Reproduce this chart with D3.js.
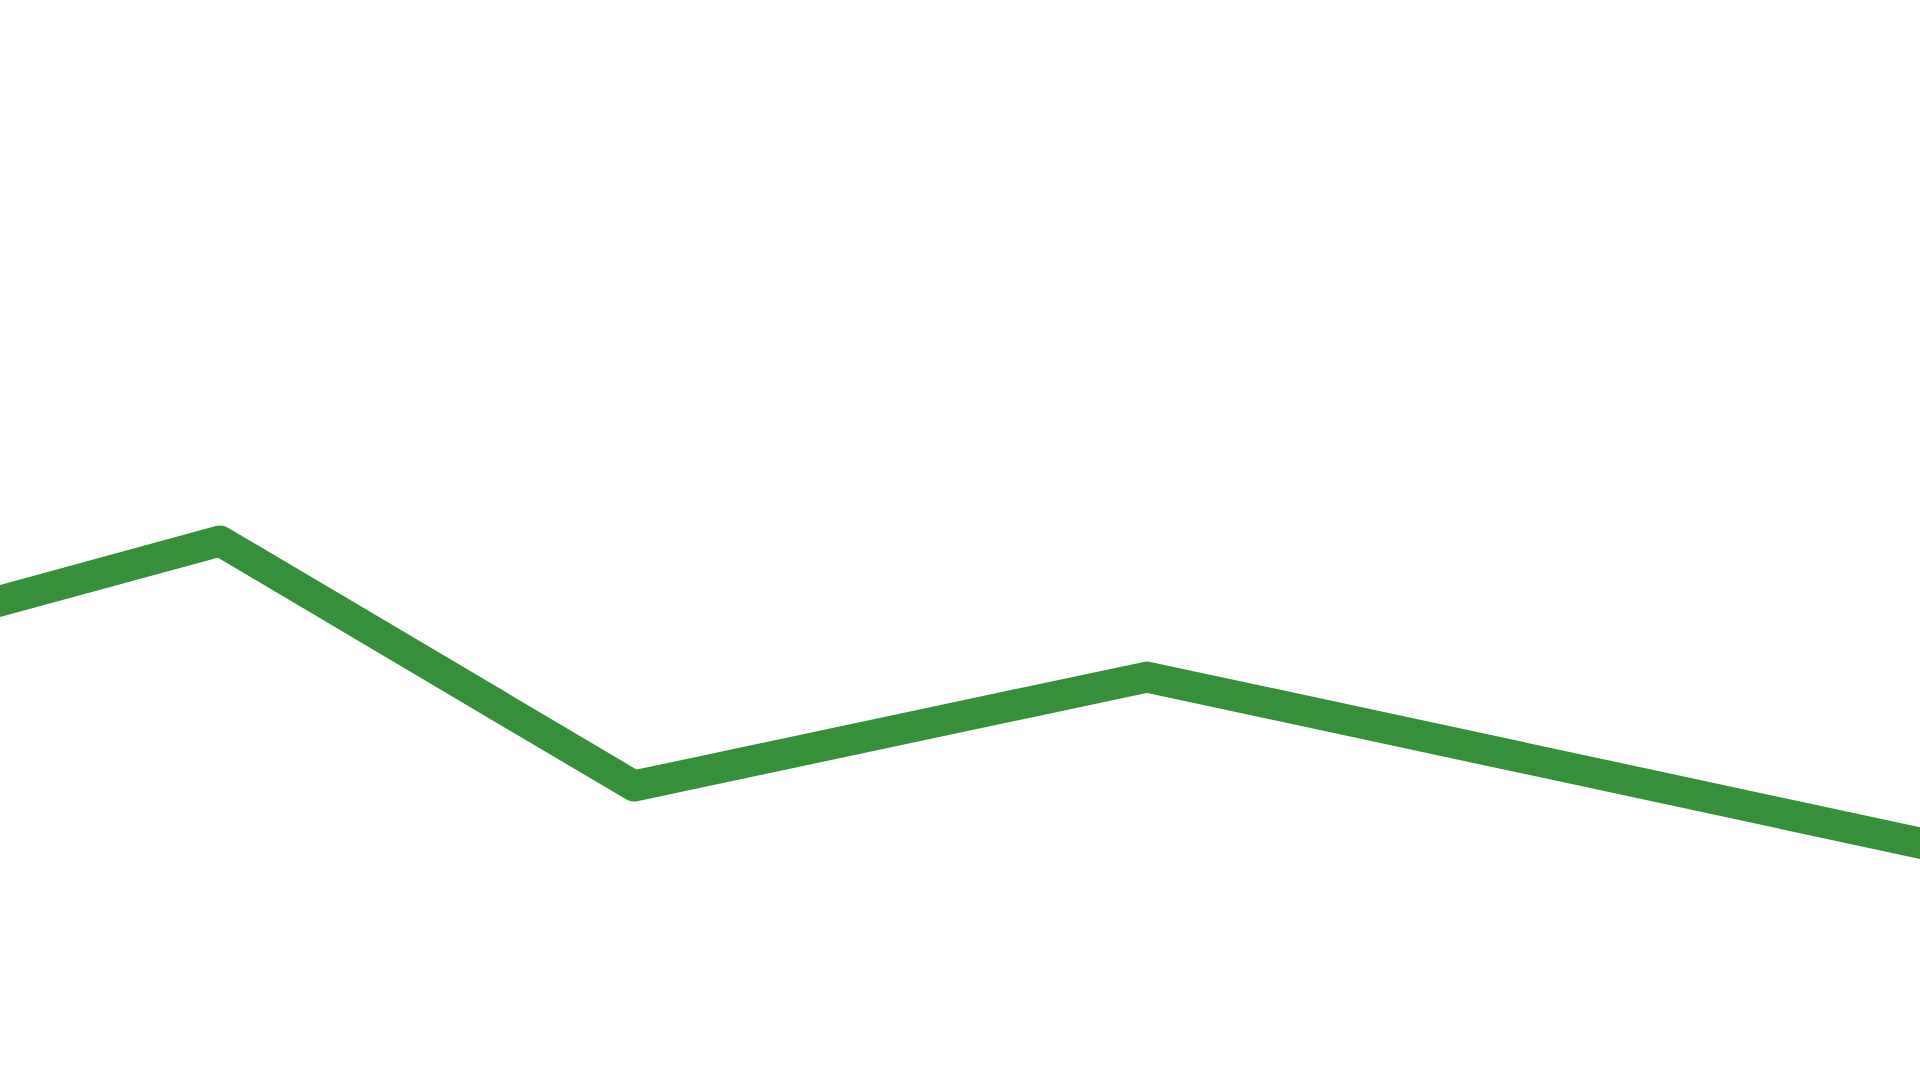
<!DOCTYPE html>
<html>
<head>
<meta charset="utf-8">
<script src="https://cdn.jsdelivr.net/npm/d3@7"></script>
<style>
  html, body { margin: 0; padding: 0; background: #ffffff; overflow: hidden; }
  svg { display: block; }
</style>
</head>
<body>
<svg id="chart" width="1920" height="1080"></svg>
<script>
// Data (no axes shown; units are relative 0–100)
const xValues = [0, 11.46, 33.02, 59.74, 100];
const yValues = [44.35, 49.91, 27.22, 37.31, 21.94];
const lineColor = "#368f39";

const width = 1920, height = 1080;
const svg = d3.select("#chart");

const x = d3.scaleLinear().domain([0, 100]).range([0, width]);
const y = d3.scaleLinear().domain([0, 100]).range([height, 0]);

const data = xValues.map((v, i) => ({ x: v, y: yValues[i] }));

const line = d3.line()
  .x(d => x(d.x))
  .y(d => y(d.y));

svg.append("path")
  .datum(data)
  .attr("d", line)
  .attr("fill", "none")
  .attr("stroke", lineColor)
  .attr("stroke-width", 31)
  .attr("stroke-linejoin", "round")
  .attr("stroke-linecap", "square");
</script>
</body>
</html>
